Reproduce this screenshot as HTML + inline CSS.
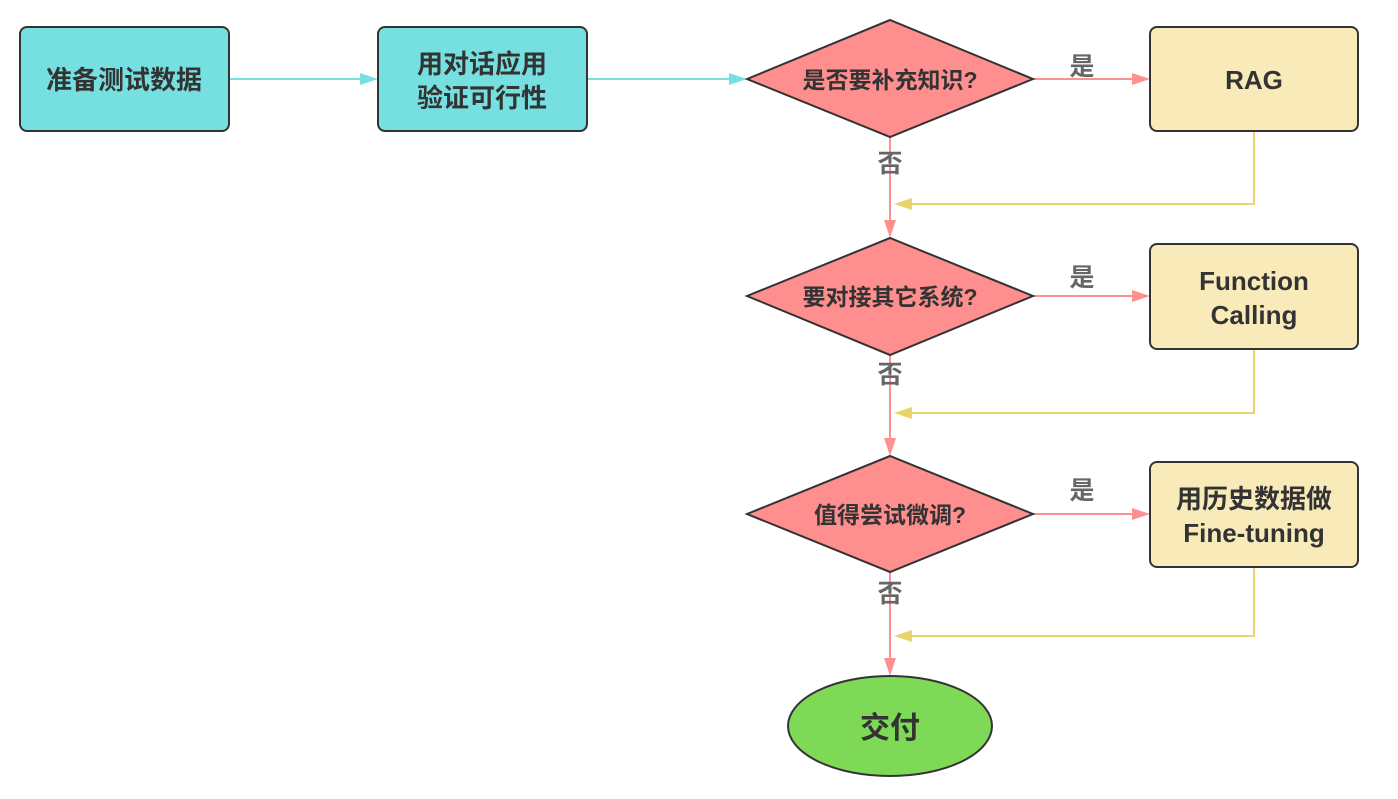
<!DOCTYPE html>
<html><head><meta charset="utf-8"><style>
html,body{margin:0;padding:0;background:#fff}
svg text{font-family:"Liberation Sans","Noto Sans CJK SC",sans-serif;font-weight:bold}
</style></head><body>
<svg width="1398" height="794" viewBox="0 0 1398 794" xmlns="http://www.w3.org/2000/svg">
<g stroke-width="2">
<line x1="229" y1="79" x2="362" y2="79" stroke="#76E0E0"/>
<path d="M360,73 L378,79 L360,85 Z" fill="#76E0E0"/>
<line x1="587" y1="79" x2="731" y2="79" stroke="#76E0E0"/>
<path d="M729,73 L747,79 L729,85 Z" fill="#76E0E0"/>
<line x1="1033" y1="79" x2="1134" y2="79" stroke="#FF9090"/>
<path d="M1132,73 L1150,79 L1132,85 Z" fill="#FF9090"/>
<line x1="1033" y1="296" x2="1134" y2="296" stroke="#FF9090"/>
<path d="M1132,290 L1150,296 L1132,302 Z" fill="#FF9090"/>
<line x1="1033" y1="514" x2="1134" y2="514" stroke="#FF9090"/>
<path d="M1132,508 L1150,514 L1132,520 Z" fill="#FF9090"/>
<line x1="890" y1="137" x2="890" y2="222" stroke="#FF9090"/>
<path d="M884,220 L890,238 L896,220 Z" fill="#FF9090"/>
<line x1="890" y1="355" x2="890" y2="440" stroke="#FF9090"/>
<path d="M884,438 L890,456 L896,438 Z" fill="#FF9090"/>
<line x1="890" y1="572" x2="890" y2="660" stroke="#FF9090"/>
<path d="M884,658 L890,676 L896,658 Z" fill="#FF9090"/>
<polyline points="1254,131 1254,204 910,204" fill="none" stroke="#EBD36A"/>
<path d="M912,198 L894,204 L912,210 Z" fill="#EBD36A"/>
<polyline points="1254,349 1254,413 910,413" fill="none" stroke="#EBD36A"/>
<path d="M912,407 L894,413 L912,419 Z" fill="#EBD36A"/>
<polyline points="1254,567 1254,636 910,636" fill="none" stroke="#EBD36A"/>
<path d="M912,630 L894,636 L912,642 Z" fill="#EBD36A"/>
</g>
<g stroke="#333" stroke-width="2">
<rect x="20" y="27" width="209" height="104" rx="7" fill="#76E0E0"/>
<rect x="378" y="27" width="209" height="104" rx="7" fill="#76E0E0"/>
<rect x="1150" y="27" width="208" height="104" rx="7" fill="#F8EBB9"/>
<rect x="1150" y="244" width="208" height="105" rx="7" fill="#F8EBB9"/>
<rect x="1150" y="462" width="208" height="105" rx="7" fill="#F8EBB9"/>
<polygon points="747,79 890,20 1033,79 890,137" fill="#FF8E8E"/>
<polygon points="747,296 890,238 1033,296 890,355" fill="#FF8E8E"/>
<polygon points="747,514 890,456 1033,514 890,572" fill="#FF8E8E"/>
<ellipse cx="890" cy="726" rx="102" ry="50" fill="#7ED957"/>
</g>
<g fill="#333" text-anchor="middle">
<text x="124" y="89" font-size="26">准备测试数据</text>
<text x="482" y="73" font-size="26">用对话应用</text>
<text x="482" y="107" font-size="26">验证可行性</text>
<text x="890" y="88" font-size="23">是否要补充知识?</text>
<text x="890" y="305" font-size="23">要对接其它系统?</text>
<text x="890" y="523" font-size="23">值得尝试微调?</text>
<text x="1254" y="89" font-size="26">RAG</text>
<text x="1254" y="290" font-size="26">Function</text>
<text x="1254" y="324" font-size="26">Calling</text>
<text x="1254" y="508" font-size="26">用历史数据做</text>
<text x="1254" y="542" font-size="26">Fine-tuning</text>
<text x="890" y="738" font-size="30">交付</text>
</g>
<g fill="#666" text-anchor="middle" font-size="25">
<text x="1082" y="75">是</text>
<text x="1082" y="286">是</text>
<text x="1082" y="499">是</text>
<text x="890" y="172">否</text>
<text x="890" y="383">否</text>
<text x="890" y="602">否</text>
</g>
</svg>
</body></html>
